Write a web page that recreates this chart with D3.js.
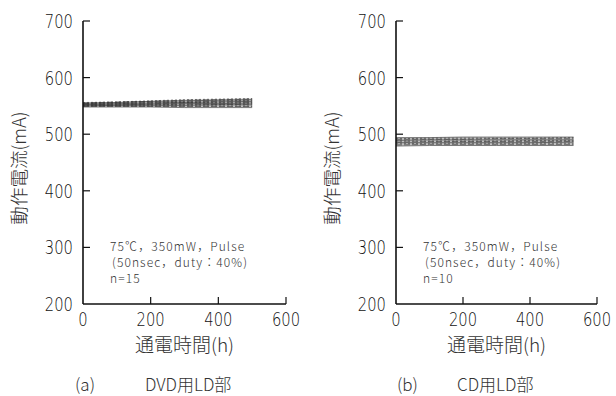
<!DOCTYPE html>
<html>
<head>
<meta charset="utf-8">
<script src="https://cdn.jsdelivr.net/npm/d3@7"></script>
<style>
  body { margin: 0; background: #fff; }
  svg { display: block; }
  .tick-label { font-family: "DejaVu Sans", "Liberation Sans", sans-serif; font-size: 18px; font-weight: 200; fill: #111; }
  .jp { font-family: "Noto Sans CJK JP", sans-serif; font-weight: 300; fill: #333; }
</style>
</head>
<body>
<div id="chart"></div>
<script>
// Data
const yTicks = [200, 300, 400, 500, 600, 700];
const xTicks = [0, 200, 400, 600];

// (a) DVD LD, n=15, hours vs operating current (mA)
const dvdHours = [0, 100, 200, 300, 400, 500];
const dvdSeries = [
  [548, 548, 548, 547, 547, 547],
  [549, 549, 549, 549, 549, 549],
  [550, 550, 550, 550, 550, 550],
  [550, 551, 551, 551, 552, 552],
  [551, 551, 552, 552, 552, 553],
  [551, 552, 552, 553, 553, 554],
  [552, 552, 553, 554, 554, 555],
  [552, 553, 554, 555, 555, 556],
  [553, 554, 555, 556, 556, 557],
  [553, 554, 555, 556, 557, 558],
  [554, 555, 556, 557, 558, 559],
  [554, 556, 557, 558, 559, 560],
  [555, 556, 558, 559, 560, 561],
  [555, 557, 558, 560, 561, 562],
  [556, 557, 559, 561, 562, 563]
];

// (b) CD LD, n=10
const cdHours = [0, 100, 200, 300, 400, 530];
const cdSeries = [
  [479, 480, 480, 480, 480, 480],
  [481, 482, 482, 482, 482, 482],
  [483, 484, 484, 484, 484, 484],
  [485, 485, 485, 485, 485, 486],
  [486, 487, 487, 487, 487, 487],
  [488, 488, 488, 488, 489, 489],
  [489, 490, 490, 490, 490, 490],
  [491, 491, 491, 492, 492, 492],
  [492, 493, 493, 493, 493, 494],
  [494, 494, 495, 495, 495, 495]
];

const panels = [
  { hours: dvdHours, series: dvdSeries, x0: 83, x1: 286, note: "n=15", caption: "(a)", name: "DVD用LD部", capX: 75, nameX: 145 },
  { hours: cdHours, series: cdSeries, x0: 396, x1: 597, note: "n=10", caption: "(b)", name: "CD用LD部", capX: 397, nameX: 457 }
];

const W = 616, H = 396;
const svg = d3.select('#chart')
  .append('svg')
  .attr('width', W)
  .attr('height', H);

const y = d3.scaleLinear().domain([200, 700]).range([304, 21]);

panels.forEach(p => {
  const x = d3.scaleLinear().domain([0, 600]).range([p.x0, p.x1]);
  const g = svg.append('g');

  // band between min and max of series
  const env = p.hours.map((h, i) => ({
    h,
    lo: d3.min(p.series, s => s[i]),
    hi: d3.max(p.series, s => s[i])
  }));
  const area = d3.area()
    .x(d => x(d.h))
    .y0(d => y(d.lo))
    .y1(d => y(d.hi));
  g.append('path')
    .datum(env)
    .attr('d', area)
    .attr('fill', '#bdbdbd');

  const line = d3.line()
    .x((d, i) => x(p.hours[i]))
    .y(d => y(d));
  g.selectAll('.series')
    .data(p.series)
    .enter()
    .append('path')
    .attr('class', 'series')
    .attr('d', line)
    .attr('fill', 'none')
    .attr('stroke', '#333')
    .attr('stroke-width', 0.6)
    .attr('stroke-dasharray', (d, i) => i % 3 === 0 ? null : (i % 3 === 1 ? '6,2' : '2,2'));

  // axes
  g.append('line')
    .attr('x1', x(0)).attr('x2', x(0))
    .attr('y1', y(200)).attr('y2', y(700))
    .attr('stroke', '#111').attr('stroke-width', 1.6);
  g.append('line')
    .attr('x1', x(0)).attr('x2', x(600))
    .attr('y1', y(200)).attr('y2', y(200))
    .attr('stroke', '#111').attr('stroke-width', 1.4);

  g.selectAll('.ytick')
    .data(yTicks.filter(v => v > 200))
    .enter()
    .append('line')
    .attr('x1', x(0)).attr('x2', x(0) + 7)
    .attr('y1', d => y(d)).attr('y2', d => y(d))
    .attr('stroke', '#111').attr('stroke-width', 1.2);

  g.selectAll('.xtick')
    .data(xTicks.filter(v => v > 0))
    .enter()
    .append('line')
    .attr('x1', d => x(d)).attr('x2', d => x(d))
    .attr('y1', y(200)).attr('y2', y(200) - 7)
    .attr('stroke', '#111').attr('stroke-width', 1.2);

  // condensed tick labels (scaled horizontally)
  g.selectAll('.ylab')
    .data(yTicks)
    .enter()
    .append('text')
    .attr('class', 'tick-label')
    .attr('transform', d => `translate(${x(0) - 10},${y(d) + 7}) scale(0.82,1.05)`)
    .attr('text-anchor', 'end')
    .text(d => d);

  g.selectAll('.xlab')
    .data(xTicks)
    .enter()
    .append('text')
    .attr('class', 'tick-label')
    .attr('transform', d => `translate(${x(d)},${y(200) + 22}) scale(0.82,1.05)`)
    .attr('text-anchor', 'middle')
    .text(d => d);

  // axis titles
  g.append('text')
    .attr('class', 'jp')
    .attr('transform', `translate(${x(0) - 57},${168}) rotate(-90)`)
    .attr('text-anchor', 'middle')
    .style('font-size', '18.5px')
    .text('動作電流(mA)');

  g.append('text')
    .attr('class', 'jp')
    .attr('x', (x(0) + x(600)) / 2)
    .attr('y', 352)
    .attr('text-anchor', 'middle')
    .style('font-size', '19px')
    .text('通電時間(h)');

  // condition note
  const note = g.append('text')
    .attr('class', 'jp')
    .style('font-size', '12px')
    .style('letter-spacing', '1.1px');
  note.append('tspan').attr('x', x(0) + 27).attr('y', 251).text('75℃，350mW，Pulse');
  note.append('tspan').attr('x', x(0) + 29).attr('y', 267).text('(50nsec，duty：40%)');
  note.append('tspan').attr('x', x(0) + 27).attr('y', 283).text(p.note);

  // caption
  g.append('text')
    .attr('class', 'jp')
    .attr('x', p.capX)
    .attr('y', 391)
    .style('font-size', '17px')
    .text(p.caption);
  g.append('text')
    .attr('class', 'jp')
    .attr('x', p.nameX)
    .attr('y', 391)
    .style('font-size', '17px')
    .text(p.name);
});
</script>
</body>
</html>
